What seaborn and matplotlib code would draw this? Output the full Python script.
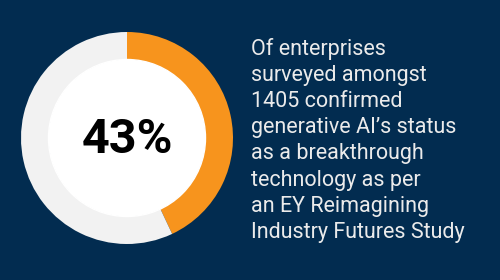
import matplotlib
matplotlib.use("Agg")
import matplotlib.pyplot as plt
import seaborn as sns

# Data
labels = ["Confirmed breakthrough", "Other"]
values = [43, 57]
center_label = "43%"
text_lines = [
    "Of enterprises",
    "surveyed amongst",
    "1405 confirmed",
    "generative AI\u2019s status",
    "as a breakthrough",
    "technology as per",
    "an EY Reimagining",
    "Industry Futures Study",
]

sns.set_style("white")
plt.rcParams['font.family'] = ['Roboto', 'DejaVu Sans']

BG = "#022c50"
ORANGE = "#f7941d"
GRAY = "#f2f2f2"
W, H = 500, 280
fig = plt.figure(figsize=(5, 2.8), dpi=100, facecolor=BG)

cx, cy, half = 127, 138, 120
ax = fig.add_axes([(cx - half) / W, (H - cy - half) / H, 2 * half / W, 2 * half / H])
ax.set_facecolor(BG)
ax.pie(values, colors=[ORANGE, GRAY], startangle=90, counterclock=False,
       radius=106, center=(0, 0), frame=False,
       wedgeprops=dict(width=28, edgecolor="none", linewidth=0))
ax.add_patch(plt.Circle((0, 0), 78.5, color="white", zorder=3))
ax.text(0, -15.3, center_label, ha="center", va="baseline", fontsize=35,
        fontweight="bold", color="black", zorder=4)
ax.set_xlim(-half, half)
ax.set_ylim(-half, half)
ax.set_aspect("equal")
ax.axis("off")

x0 = 251
y_first = 54.5
step = 26.25
for i, line in enumerate(text_lines):
    fig.text(x0 / W, 1 - (y_first + i * step) / H, line, ha="left", va="baseline",
             fontsize=15.5, color="#ebebeb")

fig.savefig("out.png", dpi=100, facecolor=BG)
